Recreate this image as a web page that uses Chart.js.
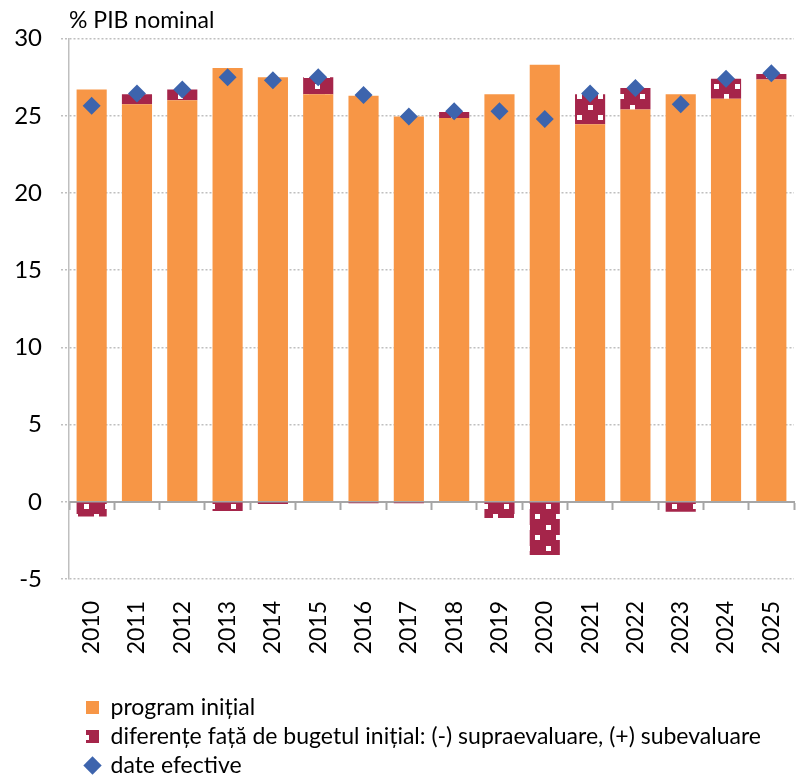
<!DOCTYPE html>
<html>
<head>
<meta charset="utf-8">
<script src="https://cdn.jsdelivr.net/npm/chart.js@4.4.1/dist/chart.umd.min.js"></script>
<style>
    html, body { margin: 0; padding: 0; background: #fff; }
    #wrap { width: 803px; height: 777px; position: relative; }
</style>
</head>
<body>
<div id="wrap"><canvas id="budgetChart"></canvas></div>
<script>
// Data (% PIB nominal)
const years = ['2010', '2011', '2012', '2013', '2014', '2015', '2016', '2017',
               '2018', '2019', '2020', '2021', '2022', '2023', '2024', '2025'];
const programInitial = [26.7, 25.75, 26.0, 28.1, 27.5, 26.4, 26.3, 24.95,
                        24.85, 26.4, 28.3, 24.45, 25.4, 26.4, 26.1, 27.35];
const diferente = [-0.95, 0.65, 0.7, -0.6, -0.15, 1.1, -0.1, -0.1,
                   0.4, -1.05, -3.45, 1.95, 1.4, -0.65, 1.3, 0.35];
const dateEfective = [25.65, 26.45, 26.7, 27.5, 27.3, 27.5, 26.35, 24.95,
                      25.3, 25.3, 24.8, 26.45, 26.8, 25.75, 27.4, 27.75];
const yTicks = [-5, 0, 5, 10, 15, 20, 25, 30];

const ORANGE = '#F79646';
const MAROON = '#A5254A';
const BLUE = '#3D64AD';
const GRID = '#bfbfbf';
const AXIS = '#a6a6a6';
const FONT = 'Lato';

// maroon fill with small white squares
function makePattern() {
    const c = document.createElement('canvas');
    c.width = 21;
    c.height = 21;
    const g = c.getContext('2d');
    g.fillStyle = MAROON;
    g.fillRect(0, 0, 21, 21);
    g.fillStyle = '#ffffff';
    g.fillRect(0, 0, 5, 5);
    g.fillRect(10, 10, 5, 5);
    return g.createPattern(c, 'repeat');
}

// x axes should not reserve side room for the rotated labels
function noSidePadding(scale) {
    scale.paddingLeft = 0;
    scale.paddingRight = 0;
}

// nudge the legend to the right, like the original
const legendShift = {
    id: 'legendShift',
    afterLayout(chart) {
        chart.legend.left += 11;
        chart.legend.right += 11;
    }
};

const ctx = document.getElementById('budgetChart').getContext('2d');
const chart = new Chart(ctx, {
    type: 'bar',
    data: {
        labels: years,
        datasets: [{
            label: 'program inițial',
            data: programInitial,
            backgroundColor: ORANGE,
            pointStyle: 'rect',
            stack: 'bars',
            order: 1
        }, {
            label: 'diferențe față de bugetul inițial: (-) supraevaluare, (+) subevaluare',
            data: diferente,
            backgroundColor: makePattern(),
            pointStyle: 'rect',
            stack: 'bars',
            order: 1
        }, {
            type: 'line',
            label: 'date efective',
            data: dateEfective,
            showLine: false,
            pointStyle: 'rectRot',
            pointRadius: 9,
            pointHoverRadius: 9,
            pointBackgroundColor: BLUE,
            pointBorderColor: BLUE,
            pointBorderWidth: 0,
            backgroundColor: BLUE,
            borderColor: BLUE,
            stack: 'points',
            order: 0
        }]
    },
    options: {
        responsive: true,
        maintainAspectRatio: false,
        animation: false,
        layout: {
            padding: { left: 14, right: -3, top: 0, bottom: 0 }
        },
        datasets: {
            bar: {
                barPercentage: 1,
                categoryPercentage: 0.665
            }
        },
        plugins: {
            title: {
                display: true,
                text: '% PIB nominal',
                align: 'start',
                fullSize: false,
                color: '#000',
                font: { family: FONT, size: 23, weight: 'normal' },
                padding: { top: 7, bottom: 4 }
            },
            legend: {
                position: 'bottom',
                align: 'start',
                fullSize: false,
                maxHeight: 87,
                labels: {
                    color: '#000',
                    font: { family: FONT, size: 23 },
                    usePointStyle: true,
                    boxWidth: 13,
                    boxHeight: 13,
                    padding: 6,
                    sort: (a, b) => a.datasetIndex - b.datasetIndex
                }
            },
            tooltip: { enabled: false }
        },
        scales: {
            x: {
                stacked: true,
                position: { y: 0 },
                z: 1,
                ticks: { display: false },
                grid: {
                    display: true,
                    drawOnChartArea: false,
                    drawTicks: true,
                    tickLength: 7,
                    tickWidth: 2,
                    tickColor: AXIS,
                    color: AXIS
                },
                border: { display: true, color: AXIS, width: 2 },
                afterFit: noSidePadding
            },
            x2: {
                type: 'category',
                position: 'bottom',
                offset: true,
                grid: { display: false, drawTicks: false },
                border: { display: false },
                ticks: {
                    color: '#000',
                    font: { family: FONT, size: 23 },
                    minRotation: 90,
                    maxRotation: 90,
                    autoSkip: false,
                    padding: 22
                },
                afterFit: function(scale) {
                    noSidePadding(scale);
                    scale.height = 111;
                }
            },
            y: {
                stacked: true,
                min: -5,
                max: 30,
                afterBuildTicks: function(scale) {
                    scale.ticks = yTicks.map(v => ({ value: v }));
                },
                afterFit: function(scale) {
                    scale.width = 55;
                },
                ticks: {
                    color: '#000',
                    font: { family: FONT, size: 24 },
                    padding: 19
                },
                grid: {
                    color: ctx => ctx.tick && ctx.tick.value === 0 ? 'rgba(0,0,0,0)' : GRID,
                    lineWidth: 1.5,
                    tickLength: 8,
                    tickColor: GRID,
                    tickBorderDash: [2, 2]
                },
                border: { display: true, color: GRID, width: 1.5, dash: [2, 2] }
            }
        }
    },
    plugins: [legendShift]
});
</script>
</body>
</html>
